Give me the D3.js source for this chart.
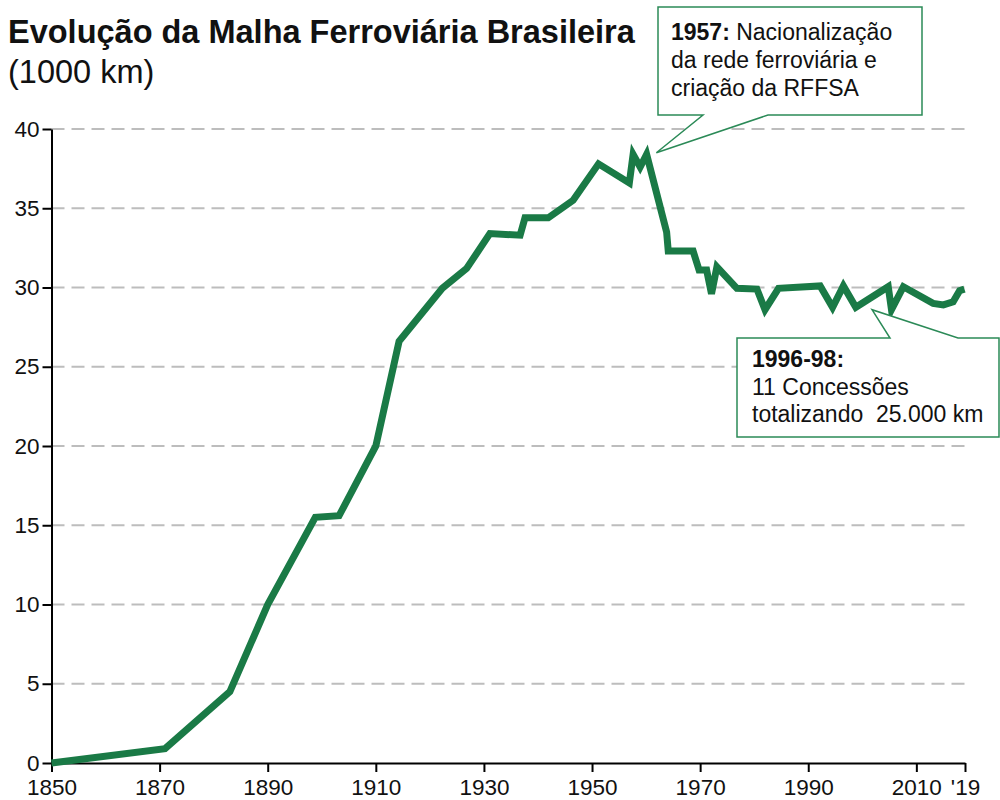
<!DOCTYPE html>
<html>
<head>
<meta charset="utf-8">
<script src="https://cdn.jsdelivr.net/npm/d3@7"></script>
<style>
  body { margin: 0; background: #fff; }
  svg { font-family: "Liberation Sans", Arial, sans-serif; }
</style>
</head>
<body>
<div id="chart"></div>
<script>
// years and network length (1000 km)
const years = [1850, 1871, 1883, 1890, 1898.8, 1903.2, 1910, 1914.3, 1922.3, 1926.8, 1931.1, 1936.7, 1937.6,
    1941.9, 1946.5, 1951.2, 1956.9, 1957.6, 1958.9, 1960.1, 1963.8, 1964.1, 1968.7, 1969.8, 1971.2,
    1972.1, 1973.1, 1976.8, 1980.5, 1982, 1984.5, 1992.2, 1994.5, 1996.5, 1998.8, 2004.8, 2005.4,
    2007.6, 2013.1, 2015, 2016.8, 2018, 2018.9];
const lengths = [0, 0.9, 4.5, 10.0, 15.5, 15.6, 20.0, 26.6, 29.95, 31.2, 33.4, 33.3, 34.4,
    34.4, 35.5, 37.8, 36.6, 38.4, 37.6, 38.4, 33.5, 32.3, 32.3, 31.1, 31.1,
    29.6, 31.3, 29.95, 29.9, 28.6, 29.95, 30.1, 28.75, 30.1, 28.75, 30.05, 28.6,
    30.05, 29.0, 28.9, 29.1, 29.8, 29.9];

const yTicks = [0, 5, 10, 15, 20, 25, 30, 35, 40];
const xTicks = [1850, 1870, 1890, 1910, 1930, 1950, 1970, 1990, 2010, 2019];
const xTickLabels = ["1850", "1870", "1890", "1910", "1930", "1950", "1970", "1990", "2010", "'19"];

const titleText = "Evolução da Malha Ferroviária Brasileira";
const subtitleText = "(1000 km)";

const W = 1000, H = 800;
const green = "#1a7a46";
const boxGreen = "#2b8a57";
const textColor = "#111";

const data = years.map((yr, i) => ({ year: yr, value: lengths[i] }));

const svg = d3.select("#chart").append("svg")
    .attr("width", W)
    .attr("height", H);

// scales
const x = d3.scaleLinear().domain([1850, 2019]).range([51.5, 965]);
const y = d3.scaleLinear().domain([0, 40]).range([763, 129]);

// dashed gridlines
svg.append("g")
    .selectAll("line")
    .data(yTicks.filter(d => d > 0))
    .enter()
    .append("line")
    .attr("x1", x(1850))
    .attr("x2", x(2019))
    .attr("y1", d => y(d))
    .attr("y2", d => y(d))
    .attr("stroke", "#bdbdbd")
    .attr("stroke-width", 2)
    .attr("stroke-dasharray", "13,7");

// y axis
const yAxis = svg.append("g")
    .attr("transform", `translate(${x(1850)},0)`)
    .call(d3.axisLeft(y).tickValues(yTicks).tickSize(9).tickSizeOuter(0).tickPadding(3));

// x axis
const xAxis = svg.append("g")
    .attr("transform", `translate(0,${y(0)})`)
    .call(d3.axisBottom(x).tickValues(xTicks).tickSize(9).tickSizeOuter(0).tickPadding(7)
        .tickFormat((d, i) => xTickLabels[i]));

[yAxis, xAxis].forEach(ax => {
    ax.select(".domain").attr("stroke", "#000").attr("stroke-width", 2);
    ax.selectAll(".tick line").attr("stroke", "#000").attr("stroke-width", 2);
    ax.selectAll(".tick text")
        .attr("fill", textColor)
        .style("font-size", "22.5px")
        .style("font-family", "'Liberation Sans', Arial, sans-serif");
});

// the line itself
const line = d3.line()
    .x(d => x(d.year))
    .y(d => y(d.value));

svg.append("path")
    .datum(data)
    .attr("d", line)
    .attr("fill", "none")
    .attr("stroke", green)
    .attr("stroke-width", 7)
    .attr("stroke-linejoin", "miter");

// title
svg.append("text")
    .attr("x", 8)
    .attr("y", 43)
    .style("font-size", "32.5px")
    .style("font-weight", "bold")
    .attr("fill", textColor)
    .text(titleText);

svg.append("text")
    .attr("x", 8)
    .attr("y", 83)
    .style("font-size", "32.5px")
    .attr("fill", textColor)
    .text(subtitleText);

// callout 1: 1957 nationalisation, tip anchored on the data scale
const tip1 = { x: x(1961.9), y: y(38.5) };
svg.append("path")
    .attr("d", `M658,7 H922 V115 H768 L${tip1.x},${tip1.y} L703,115 H658 Z`)
    .attr("fill", "#fff")
    .attr("stroke", boxGreen)
    .attr("stroke-width", 1.5);

const c1 = svg.append("text").attr("x", 671).attr("y", 40).style("font-size", "23px").attr("fill", textColor);
c1.append("tspan").style("font-weight", "bold").text("1957:");
c1.append("tspan").text(" Nacionalização");
svg.append("text").attr("x", 671).attr("y", 68).style("font-size", "23px").attr("fill", textColor)
    .text("da rede ferroviária e");
svg.append("text").attr("x", 671).attr("y", 96).style("font-size", "23px").attr("fill", textColor)
    .text("criação da RFFSA");

// callout 2: 1996-98 concessions
const tip2 = { x: x(2001.8), y: y(28.6) };
svg.append("path")
    .attr("d", `M737,338 H890 L${tip2.x},${tip2.y} L958,338 H999 V437 H737 Z`)
    .attr("fill", "#fff")
    .attr("stroke", boxGreen)
    .attr("stroke-width", 1.5);

svg.append("text").attr("x", 752).attr("y", 367).style("font-size", "23px")
    .style("font-weight", "bold").attr("fill", textColor).text("1996-98:");
svg.append("text").attr("x", 752).attr("y", 395).style("font-size", "23px").attr("fill", textColor)
    .text("11 Concessões");
svg.append("text").attr("x", 752).attr("y", 422).style("font-size", "23px").attr("fill", textColor)
    .style("white-space", "pre")
    .text("totalizando  25.000 km");
</script>
</body>
</html>
